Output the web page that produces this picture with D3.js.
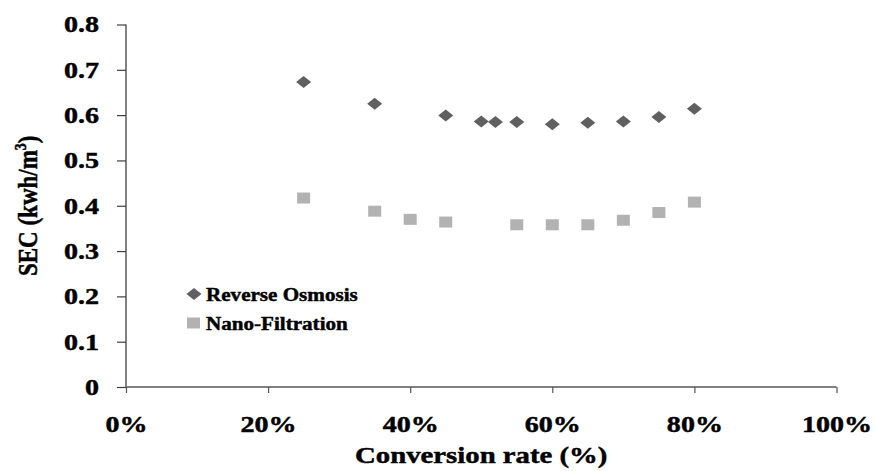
<!DOCTYPE html>
<html>
<head>
<meta charset="utf-8">
<script src="https://cdn.jsdelivr.net/npm/d3@7"></script>
<style>
  html, body { margin: 0; padding: 0; background: #fff; }
  svg text { font-family: "Liberation Serif", "Times New Roman", serif; font-weight: bold; fill: #000; stroke: #000; stroke-width: 0.45px; }
</style>
</head>
<body>
<svg id="chart" width="877" height="471"></svg>
<script>
// ---- data ----
const roRates = [25, 35, 45, 50, 52, 55, 60, 65, 70, 75, 80];
const roSEC   = [0.673, 0.625, 0.599, 0.586, 0.585, 0.585, 0.580, 0.583, 0.586, 0.596, 0.614];
const nfRates = [25, 35, 40, 45, 55, 60, 65, 70, 75, 80];
const nfSEC   = [0.417, 0.388, 0.370, 0.364, 0.358, 0.358, 0.358, 0.368, 0.385, 0.408];
const xTicks = [0, 20, 40, 60, 80, 100];
const xTickLabels = ["0%", "20%", "40%", "60%", "80%", "100%"];
const yTicks = [0, 0.1, 0.2, 0.3, 0.4, 0.5, 0.6, 0.7, 0.8];
const yTickLabels = ["0", "0.1", "0.2", "0.3", "0.4", "0.5", "0.6", "0.7", "0.8"];
const seriesNames = ["Reverse Osmosis", "Nano-Filtration"];

// ---- layout ----
const svg = d3.select("#chart");
const mLeft = 126, mRight = 836.5, mTop = 24.5, mBottom = 387;
const x = d3.scaleLinear().domain([0, 100]).range([mLeft, mRight]);
const y = d3.scaleLinear().domain([0, 0.8]).range([mBottom, mTop]);
const STRETCH = 1.22;

function stretch(sel, factor) {
  sel.each(function () {
    const w = this.getComputedTextLength();
    d3.select(this).attr("textLength", w * factor).attr("lengthAdjust", "spacingAndGlyphs");
  });
}

// y axis
const yAxis = svg.append("g").attr("transform", `translate(${mLeft},0)`)
  .call(d3.axisLeft(y).tickValues(yTicks).tickFormat((d, i) => yTickLabels[i]).tickSize(9).tickPadding(18));
yAxis.select(".domain").attr("stroke", "#404040").attr("stroke-width", 1.3).attr("d", `M0,${mTop}V${mBottom}`);
yAxis.selectAll(".tick line").attr("stroke", "#404040").attr("stroke-width", 1.2);
yAxis.selectAll(".tick text").attr("font-size", 23).attr("fill", "#000").attr("font-family", null);
stretch(yAxis.selectAll(".tick text"), STRETCH);

// x axis
const xAxis = svg.append("g").attr("transform", `translate(0,${mBottom})`)
  .call(d3.axisBottom(x).tickValues(xTicks).tickFormat((d, i) => xTickLabels[i]).tickSize(6));
xAxis.select(".domain").attr("stroke", "#808080").attr("stroke-width", 2).attr("d", `M${mLeft},0H${mRight}`);
xAxis.selectAll(".tick line").attr("stroke", "#555").attr("stroke-width", 1.2);
xAxis.selectAll(".tick text").attr("font-size", 23).attr("fill", "#000").attr("font-family", null)
  .attr("y", 45).attr("dy", 0);
stretch(xAxis.selectAll(".tick text"), STRETCH);

// markers
const diamond = "M-7.5,0L0,-6L7.5,0L0,6Z";
const square = "M-6.5,-5.5H6.5V5.5H-6.5Z";
const roColor = "#606060", nfColor = "#b2b2b2";

svg.append("g").selectAll("path").data(roRates).join("path")
  .attr("d", diamond).attr("fill", roColor)
  .attr("transform", (d, i) => `translate(${x(d)},${y(roSEC[i])})`);
svg.append("g").selectAll("path").data(nfRates).join("path")
  .attr("d", square).attr("fill", nfColor)
  .attr("transform", (d, i) => `translate(${x(d)},${y(nfSEC[i])})`);

// legend
const legend = svg.append("g");
legend.append("path").attr("d", diamond).attr("fill", roColor).attr("transform", "translate(194,294)");
legend.append("path").attr("d", square).attr("fill", nfColor).attr("transform", "translate(193.5,323)");
const lt = legend.selectAll("text").data(seriesNames).join("text")
  .attr("x", 206).attr("y", (d, i) => 301 + i * 29).attr("font-size", 18.5).text(d => d);
stretch(lt, 1.14);

// x title
const xt = svg.append("text").attr("x", (mLeft + mRight) / 2).attr("y", 463)
  .attr("text-anchor", "middle").attr("font-size", 23).text("Conversion rate (%)");
stretch(xt, 1.25);

// y title
const yt = svg.append("text")
  .attr("transform", `translate(37,${(mTop + mBottom) / 2}) scale(1.2,1) rotate(-90)`)
  .attr("text-anchor", "middle").attr("font-size", 23);
yt.append("tspan").text("SEC (kwh/m");
yt.append("tspan").attr("font-size", 14).attr("dy", -9).text("3");
yt.append("tspan").attr("dy", 9).text(")");
</script>
</body>
</html>
